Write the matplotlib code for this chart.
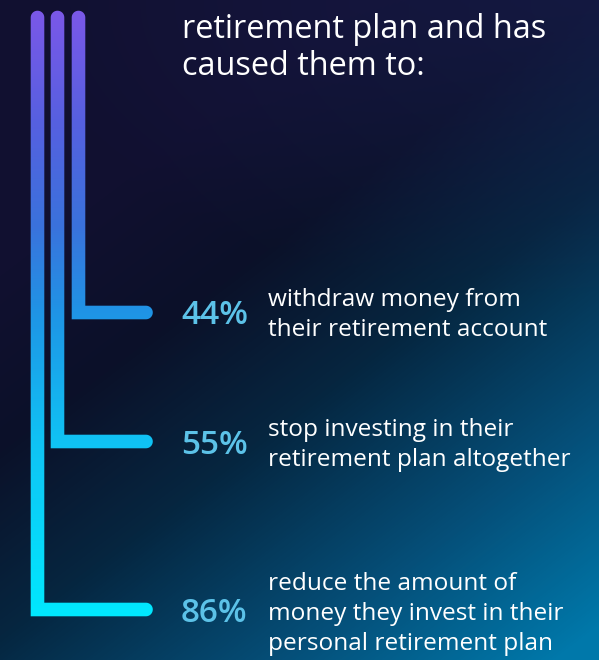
import numpy as np
import matplotlib.pyplot as plt
from matplotlib.colors import LinearSegmentedColormap
from matplotlib.path import Path
from matplotlib.patches import PathPatch

# data
percents = [44, 55, 86]
labels = [
    "withdraw money from\ntheir retirement account",
    "stop investing in their\nretirement plan altogether",
    "reduce the amount of\nmoney they invest in their\npersonal retirement plan",
]
title_lines = ["retirement plan and has", "caused them to:"]

# layout (pixels)
W, H = 599, 660
line_x = [78.5, 57.5, 37.5]
bend_y = [312.5, 441.5, 609.5]
text_y = [316, 446, 613]
top_y = 17.5
end_x = 146
hw = 6.8

plt.rcParams['font.family'] = ['Open Sans', 'DejaVu Sans']

fig = plt.figure(figsize=(W / 100, H / 100), dpi=100)
ax = fig.add_axes([0, 0, 1, 1])
ax.set_xlim(0, W)
ax.set_ylim(H, 0)
ax.axis('off')

# background gradient
yy, xx = np.mgrid[0:H, 0:W]
t = (xx / W * 0.55 + yy / H * 0.8)
t = np.clip((t - 0.33) / 0.98, 0, 1)
bg_cmap = LinearSegmentedColormap.from_list(
    'bg', [(0, '#111030'), (0.22, '#0b1129'), (0.45, '#062640'), (0.75, '#05507a'), (1, '#0078aa')])
bg = bg_cmap(t)
# purple tint top right
tr = np.clip(1 - np.hypot((xx - W) / W, yy / (H * 0.45)), 0, 1)[..., None]
bg[..., :3] = bg[..., :3] * (1 - 0.5 * tr) + np.array([0.11, 0.13, 0.35]) * 0.5 * tr
ax.imshow(bg, extent=[0, W, H, 0], zorder=0, aspect='auto')

# line gradient along y
line_cmap = LinearSegmentedColormap.from_list(
    'ln', [(0, '#7a58e8'), (0.18, '#5660e0'), (0.35, '#3a72dc'), (0.5, '#1e96e6'),
           (0.7, '#10c2f4'), (1, '#00eaff')])
grad = np.linspace(0, 1, 300)[:, None]


def l_shape(xc, yb):
    pts = []
    pts.append((xc - hw, top_y))
    pts.append((xc - hw, yb + hw))
    pts.append((end_x, yb + hw))
    for a in np.linspace(np.pi / 2, -np.pi / 2, 20):
        pts.append((end_x + hw * np.cos(a), yb + hw * np.sin(a)))
    pts.append((xc + hw, yb - hw))
    pts.append((xc + hw, top_y))
    for a in np.linspace(0, -np.pi, 20):
        pts.append((xc + hw * np.cos(a), top_y + hw * np.sin(a)))
    pts.append(pts[0])
    return Path(pts, closed=True)


for xc, yb in zip(line_x, bend_y):
    patch = PathPatch(l_shape(xc, yb), facecolor='none', edgecolor='none')
    ax.add_patch(patch)
    im = ax.imshow(grad, cmap=line_cmap, extent=[0, W, 625, 10], aspect='auto', zorder=2)
    im.set_clip_path(patch)

# title
for i, s in enumerate(title_lines):
    ax.text(182, 38 + i * 37, s, color='white', fontsize=23.4, va='baseline', ha='left')

# percentages and labels
for p, lab, ty in zip(percents, labels, text_y):
    ax.text(181, ty, f"{p}%", color='#5cc2e8', fontsize=24, fontweight='semibold',
            va='center', ha='left')
    n = lab.count('\n') + 1
    ax.text(268, ty - 1 + (2 if n == 3 else 0), lab, color='white', fontsize=17.6, va='center',
            ha='left', linespacing=1.36)

fig.savefig('out.png', dpi=100)
